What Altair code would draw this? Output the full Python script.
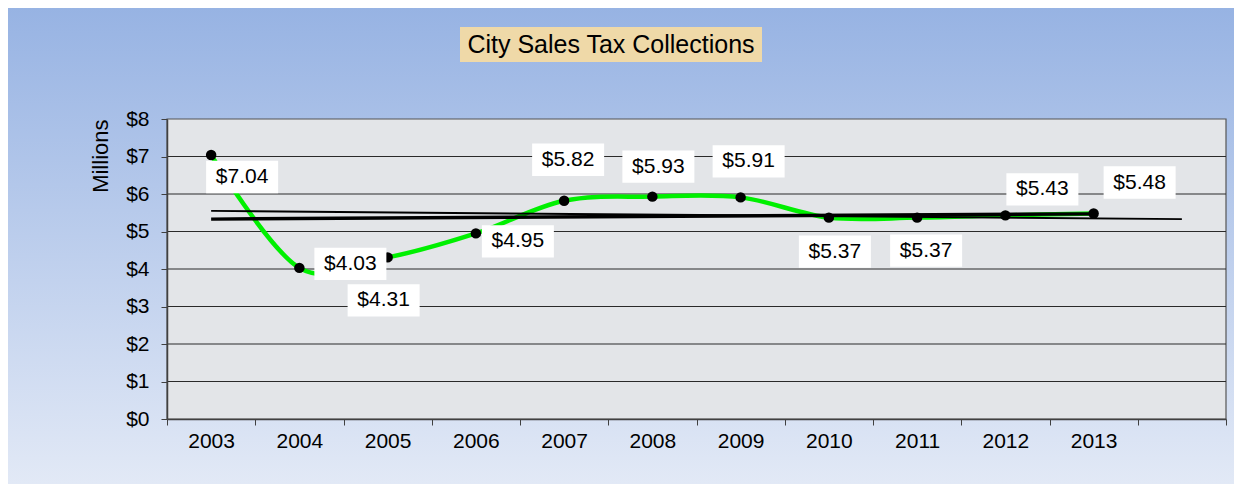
import altair as alt
import pandas as pd

# ---- data ----
years = ["2003", "2004", "2005", "2006", "2007", "2008", "2009", "2010", "2011", "2012", "2013"]
collections = [7.04, 4.03, 4.31, 4.95, 5.82, 5.93, 5.91, 5.37, 5.37, 5.43, 5.48]
blank_slot = " "
categories = years + [blank_slot]

# label placement offsets (pixels, style only)
label_dx = [31, 51, -4, 42, 4, 6, 8, 6, 9, 37, 46]
label_dy = [22, -4, 43, 8, -41, -30, -36, 34, 33, -26, -31]

# trend lines
trend_cats = ["2003", "2013"]
trend_vals = [5.33, 5.47]
trend2_cats = ["2003", blank_slot]
trend2_vals = [5.55, 5.33]

y_ticks = [0, 1, 2, 3, 4, 5, 6, 7, 8]
grid_vals = [1, 2, 3, 4, 5, 6, 7]

title_text = "City Sales Tax Collections"
y_title = "Millions"

# ---- layout constants ----
W, H = 1059, 300
Y_MAX = 8
FONT = "Liberation Sans"
half_band = W / len(categories) / 2
px_per_unit = H / Y_MAX

df = pd.DataFrame({"year": years, "val": collections, "dx": label_dx, "dy": label_dy})
trend_df = pd.DataFrame({"year": trend_cats, "val": trend_vals})
trend2_df = pd.DataFrame({"year": trend2_cats, "val": trend2_vals})
grid_df = pd.DataFrame({"val": grid_vals})

x_scale = alt.Scale(domain=categories, type="band", paddingInner=0, paddingOuter=0)
y_scale = alt.Scale(domain=[0, Y_MAX], nice=False, zero=True)

x_axis = alt.Axis(
    tickBand="extent", grid=False, zindex=1, labelAngle=0,
    labelFont=FONT, labelFontSize=21, labelColor="black", labelPadding=5,
    tickSize=6, tickColor="#404040", domainColor="#404040", domainWidth=1.5,
    title=None,
)
y_axis = alt.Axis(
    values=y_ticks, labelExpr="'$' + datum.value", grid=False, zindex=1,
    labelFont=FONT, labelFontSize=21, labelColor="black", labelPadding=12,
    tickSize=6, tickColor="#404040", domainColor="#404040", domainWidth=1.5,
    title=y_title, titleFont=FONT, titleFontSize=22, titleFontWeight="normal",
    titleColor="black", titleAnchor="end", titlePadding=13,
)

X = alt.X("year:N", scale=x_scale, axis=x_axis, sort=categories)
Y = alt.Y("val:Q", scale=y_scale, axis=y_axis)
YL = alt.Y("ly:Q", scale=y_scale, axis=y_axis)

one = alt.Data(values=[{}])

gradient = alt.LinearGradient(
    gradient="linear", x1=0, y1=0, x2=0, y2=1,
    stops=[alt.GradientStop(color="#97b3e3", offset=0),
           alt.GradientStop(color="#e2e9f6", offset=1)],
)

background = alt.Chart(one).mark_rect(fill=gradient).encode(
    x=alt.value(-159), x2=alt.value(1067), y=alt.value(-111), y2=alt.value(365)
)
plot_fill = alt.Chart(one).mark_rect(fill="#e3e5e8", stroke="#555555", strokeWidth=1.2).encode(
    x=alt.value(0), x2=alt.value(W), y=alt.value(0), y2=alt.value(H)
)
grid = alt.Chart(grid_df).mark_rule(color="#2a2a2a", strokeWidth=1.2).encode(y=Y)

line = alt.Chart(df).mark_line(interpolate="cardinal", color="#00f000", strokeWidth=4.5).encode(x=X, y=Y)
trend = alt.Chart(trend_df).mark_line(color="black", strokeWidth=3.5).encode(x=X, y=Y)
trend2 = alt.Chart(trend2_df).mark_line(color="black", strokeWidth=2).encode(x=X, y=Y)
points = alt.Chart(df).mark_point(filled=True, color="black", size=110, opacity=1).encode(x=X, y=Y)

label_base = alt.Chart(df).transform_calculate(
    lx=f"datum.dx + {half_band}",
    ly=f"datum.val - datum.dy / {px_per_unit}",
)

box_shape = "M-1,-0.45L1,-0.45L1,0.45L-1,0.45Z"
boxes = label_base.mark_point(
    shape=box_shape, size=5184, filled=True, fill="white", opacity=1, strokeWidth=0
).encode(
    x=X, y=YL,
    xOffset=alt.XOffset("lx:Q", scale=None),
)
labels = label_base.mark_text(
    font=FONT, fontSize=21, color="black", baseline="middle", align="center"
).encode(
    x=X, y=YL,
    xOffset=alt.XOffset("lx:Q", scale=None),
    text=alt.Text("val:Q", format="$.2f"),
)

title_box = alt.Chart(one).mark_rect(fill="#efd9a8").encode(
    x=alt.value(293), x2=alt.value(595), y=alt.value(-92), y2=alt.value(-57)
)
title = alt.Chart(one).mark_text(
    text=title_text, font=FONT, fontSize=25, color="black", baseline="middle", align="center"
).encode(x=alt.value(444), y=alt.value(-74))

chart = alt.layer(
    background, plot_fill, grid, line, trend, trend2, points, boxes, labels, title_box, title
).properties(width=W, height=H, padding=0).configure_view(stroke=None)

chart.save("out.html", embed_options={"renderer": "svg", "actions": False})
